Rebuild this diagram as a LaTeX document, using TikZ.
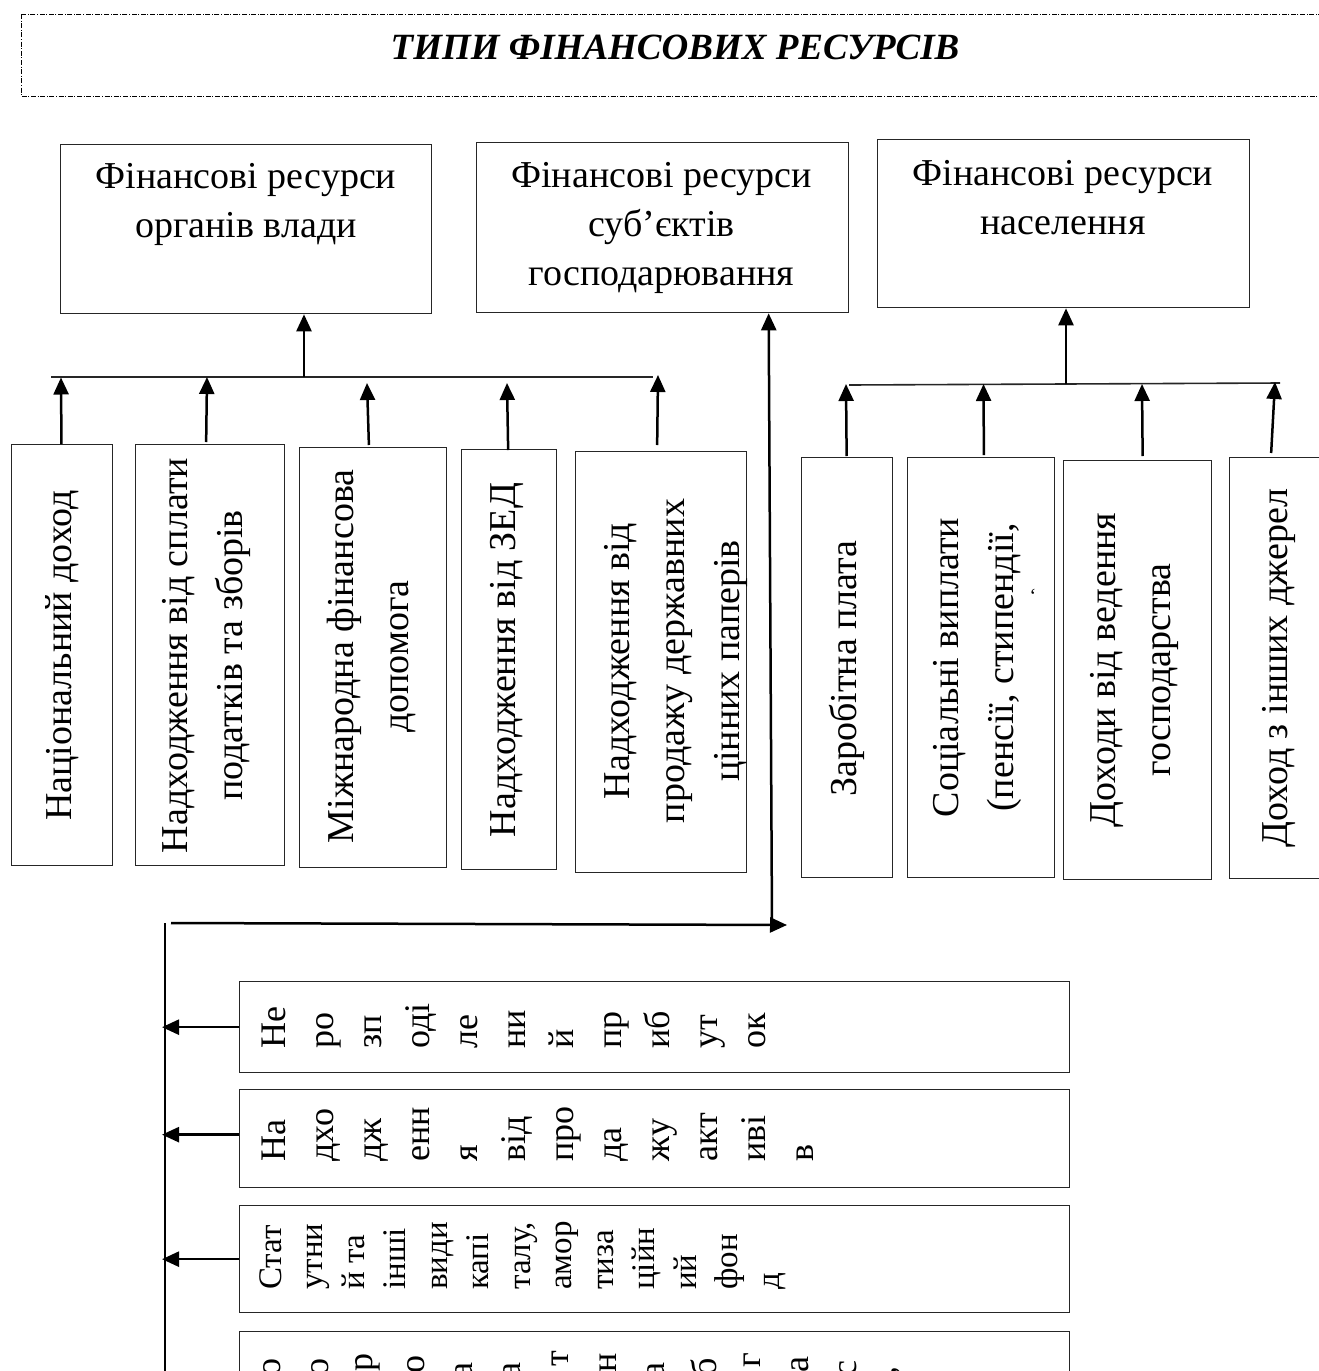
\documentclass[tikz,border=0pt]{standalone}
\usepackage{fontspec}
\setmainfont{Liberation Serif}
\usetikzlibrary{arrows.meta}
\begin{document}
\begin{tikzpicture}[x=1pt,y=-1pt,
  box/.style={draw=black!85, line width=1.3pt, inner sep=0pt, anchor=north west},
  hlab/.style={align=center, anchor=north, inner sep=0pt, font=\fontsize{38}{49}\selectfont},
  vlab/.style={rotate=90, align=center, inner sep=0pt, font=\fontsize{38}{55}\selectfont},
  slab/.style={rotate=90, align=left, anchor=north west, inner sep=0pt, font=\fontsize{36}{48}\selectfont},
  slabsmall/.style={rotate=90, align=left, anchor=north west, inner sep=0pt, font=\fontsize{33}{41.5}\selectfont},
  cut/.style={rotate=90, anchor=east, inner sep=0pt, font=\fontsize{36}{48}\selectfont},
  arr/.style={line width=2.5pt, -{Triangle[length=17pt,width=15pt]}},
  bus/.style={line width=1.6pt, draw=black!85},
  thinline/.style={line width=1.5pt},
  dashdot/.style={line width=1pt, dash pattern=on 5pt off 1.6pt on 1pt off 1.6pt}
]
\useasboundingbox (0,0) rectangle (1319,1371);
\clip (0,0) rectangle (1319,1371);

% title
\draw[dashdot] (21,14) rectangle (1340,96);
\node[inner sep=0pt, font=\fontsize{37}{37}\selectfont\bfseries\itshape] (title) at (675,47)
  {ТИПИ ФІНАНСОВИХ РЕСУРСІВ};

% top boxes
\node[box, minimum width=371pt, minimum height=169pt] (A) at (60,144) {};
\node[box, minimum width=372pt, minimum height=170pt] (B) at (475.5,142) {};
\node[box, minimum width=372pt, minimum height=168pt] (C) at (877,139) {};
\node[hlab] (At) at (246,163) {Фінансові ресурси\\органів влади};
\node[hlab] (Bt) at (661.5,162) {Фінансові ресурси\\суб’єктів\\господарювання};
\node[hlab] (Ct) at (1063,160) {Фінансові ресурси\\населення};

% left group boxes
\node[box, minimum width=101pt, minimum height=421pt] (L1) at (11,444) {};
\node[box, minimum width=149pt, minimum height=421pt] (L2) at (135,444) {};
\node[box, minimum width=147.5pt, minimum height=420pt] (L3) at (298.5,447) {};
\node[box, minimum width=95pt, minimum height=420pt] (L4) at (461,449) {};
\node[box, minimum width=171pt, minimum height=421pt] (L5) at (575,451) {};
\node[vlab] (L1t) at (62,655.5) {Національний доход};
\node[vlab] (L2t) at (206,655.5) {Надходження від сплати\\податків та зборів};
\node[vlab] (L3t) at (371.5,656.5) {Міжнародна фінансова\\допомога};
\node[vlab] (L4t) at (507,660) {Надходження від ЗЕД};
\node[vlab] (L5t) at (676,661) {Надходження від\\продажу державних\\цінних паперів};

% right group boxes
\node[box, minimum width=91pt, minimum height=420pt] (R1) at (800.5,457) {};
\node[box, minimum width=147.5pt, minimum height=420pt] (R2) at (906.5,457) {};
\node[box, minimum width=148pt, minimum height=419pt] (R3) at (1062.5,460) {};
\node[box, minimum width=96pt, minimum height=421pt] (R4) at (1229,457) {};
\node[vlab] (R1t) at (847,668.5) {Заробітна плата};
\node[vlab] (R2t) at (977,667.5) {Соціальні виплати\\(пенсії, стипендії,};
\node[inner sep=0pt, font=\fontsize{20}{20}\selectfont] (R2m) at (1033,596) {`};
\node[vlab] (R3t) at (1134.5,670) {Доходи від ведення\\господарства};
\node[vlab] (R4t) at (1279,668) {Доход з інших джерел};

% bottom stack boxes
\node[box, minimum width=830pt, minimum height=91pt] (S1) at (239,981) {};
\node[box, minimum width=830pt, minimum height=98pt] (S2) at (239,1089) {};
\node[box, minimum width=830pt, minimum height=107pt] (S3) at (239,1205) {};
\node[box, minimum width=830pt, minimum height=89pt] (S4) at (239,1331) {};
\node[slab] (S1t) at (262,1049) {Не\\ро\\зп\\оді\\ле\\ни\\й\\пр\\иб\\ут\\ок};
\node[slab] (S2t) at (262,1162) {На\\дхо\\дж\\енн\\я\\від\\про\\да\\жу\\акт\\иві\\в};
\node[slabsmall] (S3t) at (259,1290) {Стат\\утни\\й та\\інші\\види\\капі\\талу,\\амор\\тиза\\ційн\\ий\\фон\\д};
\foreach \ch/\tp [count=\i from 0] in {о/1358,о/1358,р/1353,о/1355,а/1362,а/1362,т/1351,н/1353,а/1362,б/1358,г/1353,а/1356,с/1360,{,}/1366}
  \node[cut] (S4c\i) at ({272+48*\i},\tp) {\ch};

% left bus
\coordinate (bl1) at (51,377);
\coordinate (bl2) at (653,377);
\draw[bus] (bl1) -- (bl2);
\coordinate (blA) at (304,377);
\draw[arr] (blA) -- (blA |- A.south);
\coordinate (tl1) at (61,377.5);
\coordinate (tl2) at (207,377);
\coordinate (tl3) at (367,383);
\coordinate (tl4) at (507,383);
\coordinate (tl5) at (658,375);
\draw[arr] ([xshift=-0.7pt]L1.north) -- (tl1);
\draw[arr] ([xshift=-4pt,yshift=2pt]L2.north) -- (tl2);
\draw[arr] ([xshift=-4pt,yshift=2pt]L3.north) -- (tl3);
\draw[arr] ([xshift=-1pt,yshift=-1pt]L4.north) -- (tl4);
\draw[arr] ([xshift=-4pt,yshift=6pt]L5.north) -- (tl5);

% right bus
\coordinate (br1) at (849,385);
\coordinate (br2) at (1280,383);
\draw[bus] (br1) -- (br2);
\coordinate (brC) at (1066,384);
\draw[arr] (brC) -- (brC |- C.south);
\coordinate (tr1) at (846,384);
\coordinate (tr2) at (983.5,384);
\coordinate (tr3) at (1142,384);
\coordinate (tr4) at (1275,382);
\draw[arr] ([yshift=1pt]R1.north) -- (tr1);
\draw[arr] ([xshift=3pt,yshift=2pt]R2.north) -- (tr2);
\draw[arr] ([xshift=5.5pt,yshift=4pt]R3.north) -- (tr3);
\draw[arr] ([xshift=-6.5pt,yshift=4pt]R4.north) -- (tr4);

% connector from business entities
\coordinate (vB) at (772,923);
\coordinate (hL) at (171,923);
\coordinate (hR) at (787,925);
\coordinate (vL) at (165,923);
\coordinate (vLb) at (165,1380);
\draw[arr] (vB) -- ([xshift=106.5pt]B.south);
\draw[arr] (hL) -- (hR);
\draw[thinline] (vL) -- (vLb);
\draw[arr] (S1.west) -- ([xshift=-3pt]S1.west -| vL);
\draw[arr] ([yshift=4pt]S2.west) -- ([xshift=-3pt,yshift=4pt]S2.west -| vL);
\draw[arr] (S3.west) -- ([xshift=-3pt]S3.west -| vL);
\end{tikzpicture}
\end{document}
